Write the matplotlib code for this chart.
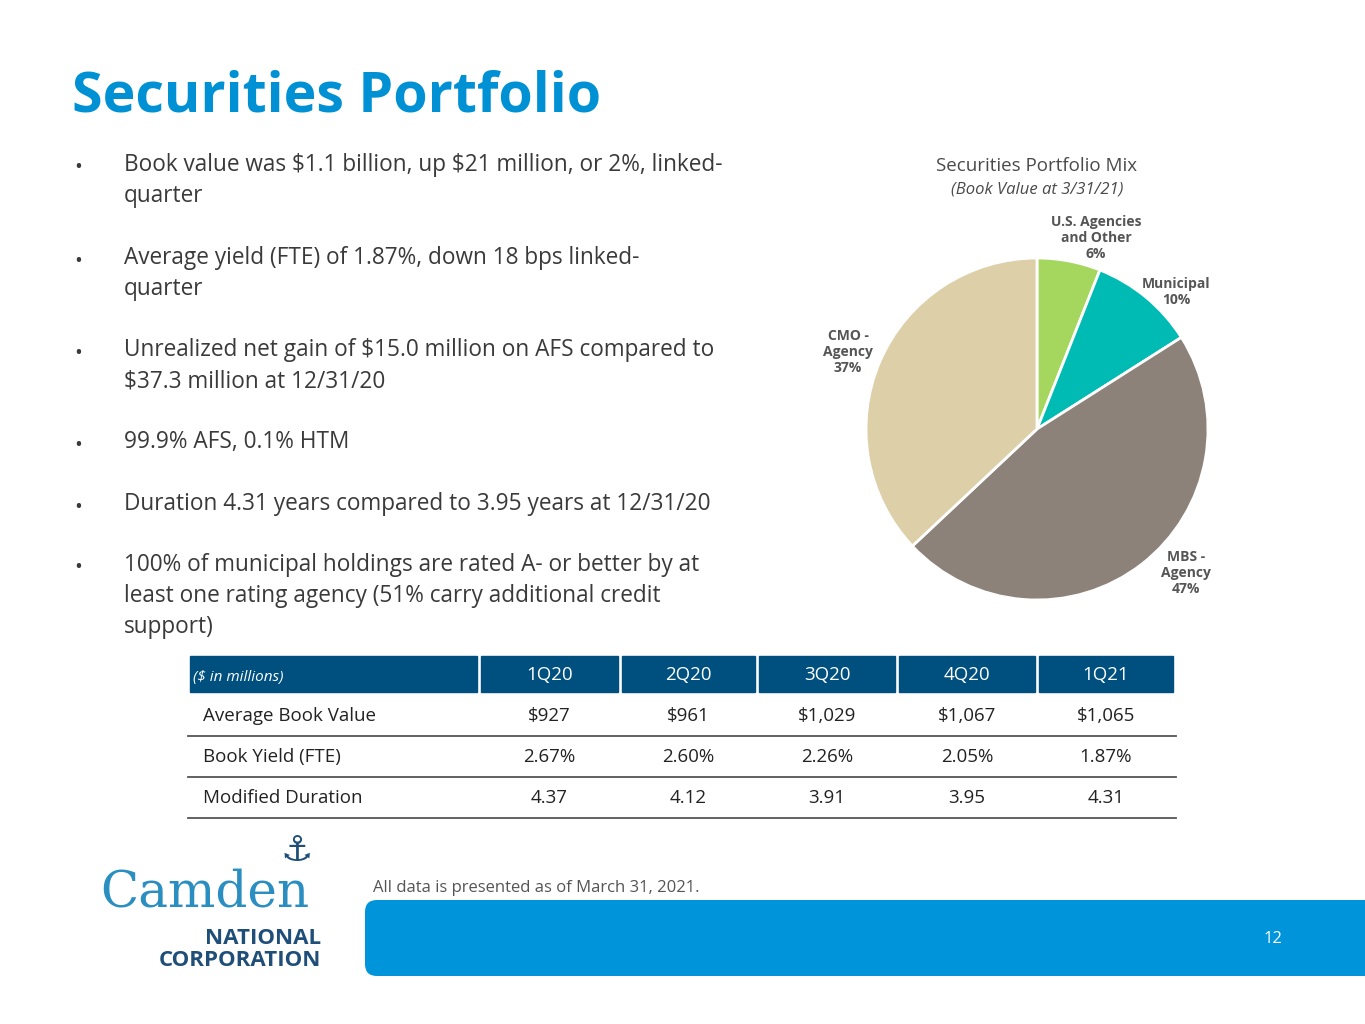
import matplotlib.pyplot as plt
from matplotlib.patches import Rectangle, FancyBboxPatch
from matplotlib.lines import Line2D

plt.rcParams['font.family'] = ['Open Sans', 'DejaVu Sans']
plt.rcParams['text.parse_math'] = False

# pie data
mix_labels = ['U.S. Agencies\nand Other\n6%', 'Municipal\n10%', 'MBS -\nAgency\n47%', 'CMO -\nAgency\n37%']
mix_values = [6, 10, 47, 37]
mix_colors = ['#A5D65E', '#00BBB4', '#8C8279', '#DDD0A8']

# table data
quarters = ['1Q20', '2Q20', '3Q20', '4Q20', '1Q21']
row_names = ['Average Book Value', 'Book Yield (FTE)', 'Modified Duration']
book_value = ['$927', '$961', '$1,029', '$1,067', '$1,065']
book_yield = ['2.67%', '2.60%', '2.26%', '2.05%', '1.87%']
duration = ['4.37', '4.12', '3.91', '3.95', '4.31']

bullets = [
    'Book value was $1.1 billion, up $21 million, or 2%, linked-\nquarter',
    'Average yield (FTE) of 1.87%, down 18 bps linked-\nquarter',
    'Unrealized net gain of $15.0 million on AFS compared to\n$37.3 million at 12/31/20',
    '99.9% AFS, 0.1% HTM',
    'Duration 4.31 years compared to 3.95 years at 12/31/20',
    '100% of municipal holdings are rated A- or better by at\nleast one rating agency (51% carry additional credit\nsupport)',
]
bullet_y = [168, 261, 353, 445, 507, 568]

W, H = 1365, 1024
fig = plt.figure(figsize=(13.65, 10.24), dpi=100)
bg = fig.add_axes([0, 0, 1, 1])
bg.set_xlim(0, W)
bg.set_ylim(H, 0)
bg.axis('off')

dark = '#3A3A3A'
bg.text(72, 97, 'Securities Portfolio', fontsize=40, fontweight='bold', color='#0091D5', va='center')

for t, y in zip(bullets, bullet_y):
    bg.text(74, y, '•', fontsize=15, color=dark, va='center')
    bg.text(124, y - 15, t, fontsize=16.3, color=dark, va='top', linespacing=1.4)

# pie
bg.text(1037, 166, 'Securities Portfolio Mix', fontsize=13.5, color='#4A4A4A', ha='center', va='center')
bg.text(1037, 189, '(Book Value at 3/31/21)', fontsize=12, style='italic', color='#4A4A4A', ha='center', va='center')
pax = fig.add_axes([(1037 - 171) / W, 1 - (429 + 171) / H, 342 / W, 342 / H])
pax.pie(mix_values, colors=mix_colors, startangle=90, counterclock=False,
        wedgeprops=dict(edgecolor='white', linewidth=2))
pax.set_xlim(-1, 1)
pax.set_ylim(-1, 1)
pax.set_aspect('equal')
label_pos = [(1096, 238), (1176, 292), (1186, 573), (848, 352)]
for lab, (x, y) in zip(mix_labels, label_pos):
    bg.text(x, y, lab, fontsize=10, fontweight='bold', color='#555555', ha='center', va='center', linespacing=1.2)

# table
header_cells = [(190, 477)] + [(481, 618), (622, 755), (759, 895), (899, 1035), (1039, 1173)]
hdr = '#00507F'
for x0, x1 in header_cells:
    bg.add_patch(Rectangle((x0, 656), x1 - x0, 36, color=hdr))
bg.text(193, 678, '($ in millions)', fontsize=11, style='italic', color='white', va='center')
for (x0, x1), q in zip(header_cells[1:], quarters):
    bg.text((x0 + x1) / 2, 675, q, fontsize=13.5, color='white', ha='center', va='center')
rows = [book_value, book_yield, duration]
for i, (name, vals) in enumerate(zip(row_names, rows)):
    y = 716 + i * 41
    bg.text(203, y, name, fontsize=13.5, color='#222222', va='center')
    for (x0, x1), v in zip(header_cells[1:], vals):
        bg.text((x0 + x1) / 2, y, v, fontsize=13.5, color='#222222', ha='center', va='center')
    bg.add_line(Line2D([188, 1176], [y + 20, y + 20], color='#555555', lw=1.3))

# footer
bg.add_patch(FancyBboxPatch((365, 900), W - 365, 76, boxstyle='round,pad=0,rounding_size=12',
                            facecolor='#0095DA', edgecolor='none'))
bg.add_patch(Rectangle((1300, 900), 65, 76, facecolor='#0095DA', edgecolor='none'))
bg.text(1282, 939, '12', fontsize=12, color='white', ha='right', va='center')
bg.text(373, 888, 'All data is presented as of March 31, 2021.', fontsize=12, color='#555555', va='center')

# logo
bg.text(205, 893, 'Camden', fontsize=36, family='DejaVu Serif', color='#2A8FC0', ha='center', va='center')
bg.text(321, 938, 'NATIONAL', fontsize=16, fontweight='bold', color='#1F4E79', ha='right', va='center')
bg.text(321, 961, 'CORPORATION', fontsize=16, fontweight='bold', color='#1F4E79', ha='right', va='center')
bg.text(297, 852, '⚓', fontsize=26, color='#1F4E79', ha='center', va='center')

fig.savefig('out.png', dpi=100)
